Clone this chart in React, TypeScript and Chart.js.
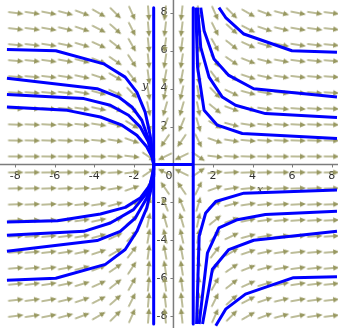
import { useEffect, useRef } from "react";
import { Chart, registerables } from "chart.js";

Chart.register(...registerables);

// Visible window in graph units
const X_MIN = -8.72;
const X_MAX = 8.27;
const Y_MIN = -8.56;
const Y_MAX = 8.61;

// Axis tick labels
const xTickValues = [-8, -6, -4, -2, 2, 4, 6, 8];
const yTickValues = [-8, -6, -4, -2, 2, 4, 6, 8];

// Sample positions of the direction field
const fieldXs = [-7.98, -7.14, -6.3, -5.46, -4.62, -3.78, -2.94, -2.1, -1.26, -0.42, 0.42, 1.26, 2.1, 2.94, 3.78, 4.62, 5.46, 6.3, 7.14, 7.98];
const fieldYs = [-7.98, -7.14, -6.3, -5.46, -4.62, -3.78, -2.94, -2.1, -1.26, -0.42, 0.42, 1.26, 2.1, 2.94, 3.78, 4.62, 5.46, 6.3, 7.14, 7.98];

// System: x' = x^2 - 1, y' = -y
const field = (x: number, y: number): [number, number] => [x * x - 1, -y];

// Solution curves, left of x = -1, above the axis
const curveA: [number, number][] = [[-8.42, 6.05], [-5.95, 5.99], [-3.53, 5.3], [-2.44, 4.6], [-1.85, 3.81], [-1.43, 2.76], [-1.18, 1.54], [-1.01, 0.32], [-1, 0]];
const curveB: [number, number][] = [[-8.42, 4.54], [-3.86, 3.99], [-2.77, 3.55], [-2.1, 3.03], [-1.6, 2.33], [-1.27, 1.37], [-1.05, 0.41], [-1, 0]];
const curveC: [number, number][] = [[-8.42, 3.69], [-4.53, 3.47], [-3.19, 3.12], [-2.27, 2.59], [-1.68, 1.98], [-1.27, 1.19], [-1.05, 0.32], [-1, 0]];
const curveD: [number, number][] = [[-8.42, 3.03], [-5.37, 2.85], [-3.69, 2.5], [-2.6, 2.07], [-1.85, 1.54], [-1.35, 0.93], [-1.05, 0.32], [-1, 0]];
// left of x = -1, below the axis
const curveE: [number, number][] = [[-8.42, -3.03], [-5.87, -2.96], [-3.69, -2.61], [-2.44, -2.26], [-1.68, -1.77], [-1.18, -1.07], [-1.02, -0.29], [-1, 0]];
const curveF: [number, number][] = [[-8.42, -3.73], [-4.53, -3.52], [-3.19, -3.08], [-2.02, -2.38], [-1.35, -1.51], [-1.02, -0.55], [-1, 0]];
const curveG: [number, number][] = [[-8.42, -4.57], [-3.86, -4.01], [-2.69, -3.52], [-1.93, -2.82], [-1.35, -1.77], [-1.02, -0.64], [-1, 0]];
const curveH: [number, number][] = [[-8.42, -6.1], [-5.95, -5.99], [-3.44, -5.26], [-2.44, -4.48], [-1.85, -3.52], [-1.35, -2.29], [-1.05, -0.9], [-1, 0]];
// right of x = 1, above the axis
const curveI: [number, number][] = [[2.3, 8.26], [2.64, 7.74], [3.56, 6.87], [5.99, 5.99], [8.27, 5.91]];
const curveJ: [number, number][] = [[1.38, 8.26], [1.55, 7.04], [2.05, 5.56], [2.8, 4.69], [4.06, 3.99], [8.27, 3.55]];
const curveK: [number, number][] = [[1.22, 8.26], [1.38, 6.17], [1.8, 4.6], [2.47, 3.55], [3.14, 3.12], [4.65, 2.68], [8.27, 2.47]];
const curveL: [number, number][] = [[1.13, 8.26], [1.22, 5.12], [1.55, 2.85], [2.22, 2.07], [3.48, 1.63], [8.27, 1.37]];
// right of x = 1, below the axis
const curveM: [number, number][] = [[1.17, -8.4], [1.3, -3.78], [1.63, -2.55], [2.14, -1.95], [3.56, -1.51], [8.27, -1.34]];
const curveN: [number, number][] = [[1.3, -8.4], [1.72, -4.65], [2.3, -3.34], [3.23, -2.91], [4.65, -2.64], [8.27, -2.47]];
const curveO: [number, number][] = [[1.47, -8.4], [1.97, -5.52], [2.8, -4.48], [4.06, -3.99], [8.27, -3.52]];
const curveP: [number, number][] = [[2.14, -8.49], [2.64, -7.62], [3.64, -6.83], [6.07, -5.96], [8.27, -5.91]];
// invariant lines
const lineLeft: [number, number][] = [[-1, 8.26], [-1, -8.4]];
const lineRight: [number, number][] = [[1, 8.26], [1, -8.4]];
const lineMiddle: [number, number][] = [[-1, 0], [1, 0]];

const solutionCurves = [
  curveA, curveB, curveC, curveD, curveE, curveF, curveG, curveH,
  curveI, curveJ, curveK, curveL, curveM, curveN, curveO, curveP,
  lineLeft, lineRight, lineMiddle,
];

const W = 338;
const H = 328;
const ARROW_COLOR = "rgb(152,152,96)";
const CURVE_COLOR = "#0000ff";
const AXIS_COLOR = "#7c7c7c";
const LABEL_COLOR = "#303030";

function makeArrow(): HTMLCanvasElement {
  const c = document.createElement("canvas");
  c.width = 16;
  c.height = 8;
  const g = c.getContext("2d")!;
  g.strokeStyle = ARROW_COLOR;
  g.fillStyle = ARROW_COLOR;
  g.lineWidth = 1.3;
  g.beginPath();
  g.moveTo(0.5, 4);
  g.lineTo(11, 4);
  g.stroke();
  g.beginPath();
  g.moveTo(16, 4);
  g.lineTo(10, 1.2);
  g.lineTo(10, 6.8);
  g.closePath();
  g.fill();
  return c;
}

const axesPlugin = {
  id: "centerAxes",
  beforeDatasetsDraw(chart: Chart) {
    const { ctx, scales } = chart;
    const xs = scales.x;
    const ys = scales.y;
    const x0 = xs.getPixelForValue(0);
    const y0 = ys.getPixelForValue(0);
    ctx.save();
    ctx.strokeStyle = AXIS_COLOR;
    ctx.lineWidth = 1.5;
    ctx.beginPath();
    ctx.moveTo(0, y0);
    ctx.lineTo(chart.width, y0);
    ctx.moveTo(x0, 0);
    ctx.lineTo(x0, chart.height);
    ctx.stroke();
    ctx.lineWidth = 1;
    ctx.beginPath();
    for (const v of xTickValues) {
      const p = Math.round(xs.getPixelForValue(v)) + 0.5;
      ctx.moveTo(p, y0);
      ctx.lineTo(p, y0 + 3);
    }
    for (const v of yTickValues) {
      const p = Math.round(ys.getPixelForValue(v)) + 0.5;
      ctx.moveTo(x0 - 3, p);
      ctx.lineTo(x0, p);
    }
    ctx.stroke();

    ctx.fillStyle = LABEL_COLOR;
    ctx.font = "11px 'DejaVu Sans'";
    ctx.textAlign = "center";
    ctx.textBaseline = "middle";
    for (const v of xTickValues) {
      ctx.fillText(String(v), xs.getPixelForValue(v), y0 + 12);
    }
    ctx.textAlign = "right";
    for (const v of yTickValues) {
      ctx.fillText(String(v), x0 - 6, ys.getPixelForValue(v));
    }
    ctx.fillText("0", x0 - 1, y0 + 12);
    ctx.font = "italic 11px 'DejaVu Serif'";
    ctx.textAlign = "center";
    ctx.fillText("x", xs.getPixelForValue(4.38), y0 + 26);
    ctx.fillText("y", xs.getPixelForValue(-1.43), ys.getPixelForValue(4.14));
    ctx.restore();
  },
};

export default function App() {
  const canvasRef = useRef<HTMLCanvasElement | null>(null);

  useEffect(() => {
    document.body.style.margin = "0";
    const canvas = canvasRef.current;
    if (!canvas) return;

    const arrowImage = makeArrow();
    const sx = W / (X_MAX - X_MIN);
    const sy = H / (Y_MAX - Y_MIN);

    const fieldPoints: { x: number; y: number }[] = [];
    const angles: number[] = [];
    for (const fy of fieldYs) {
      for (const fx of fieldXs) {
        const [u, v] = field(fx, fy);
        fieldPoints.push({ x: fx, y: fy });
        angles.push((Math.atan2(-v * sy, u * sx) * 180) / Math.PI);
      }
    }

    const curveSets = solutionCurves.map((pts) => ({
      type: "line" as const,
      data: pts.map(([x, y]) => ({ x, y })),
      borderColor: CURVE_COLOR,
      borderWidth: 3,
      pointRadius: 0,
      pointHoverRadius: 0,
      pointBorderWidth: 0,
      tension: 0,
      fill: false,
      order: 1,
      borderJoinStyle: "round" as const,
      clip: 4,
    }));

    const chart = new Chart(canvas, {
      type: "scatter",
      data: {
        datasets: [
          ...curveSets,
          {
            type: "scatter",
            data: fieldPoints,
            pointStyle: arrowImage,
            pointRadius: 0.5,
            pointHoverRadius: 0,
            pointBorderWidth: 0,
            pointRotation: (c: any) => angles[c.dataIndex],
            order: 2,
            clip: 10,
          } as any,
        ],
      },
      options: {
        animation: false,
        responsive: false,
        devicePixelRatio: 1,
        layout: { padding: 0 },
        plugins: {
          legend: { display: false },
          tooltip: { enabled: false },
        },
        events: [],
        scales: {
          x: { type: "linear", min: X_MIN, max: X_MAX, display: false },
          y: { type: "linear", min: Y_MIN, max: Y_MAX, display: false },
        },
      },
      plugins: [axesPlugin],
    });

    // keep the full canvas mapped to the window even if the plot area is inset
    const area = chart.chartArea;
    const xOpts = chart.options.scales!.x as any;
    const yOpts = chart.options.scales!.y as any;
    xOpts.min = X_MIN + area.left / sx;
    xOpts.max = X_MIN + area.right / sx;
    yOpts.max = Y_MAX - area.top / sy;
    yOpts.min = Y_MAX - area.bottom / sy;
    chart.update();

    return () => chart.destroy();
  }, []);

  return (
    <div style={{ position: "absolute", left: 0, top: 0, width: W, height: H, background: "#fff" }}>
      <canvas ref={canvasRef} width={W} height={H} style={{ display: "block" }} />
    </div>
  );
}
